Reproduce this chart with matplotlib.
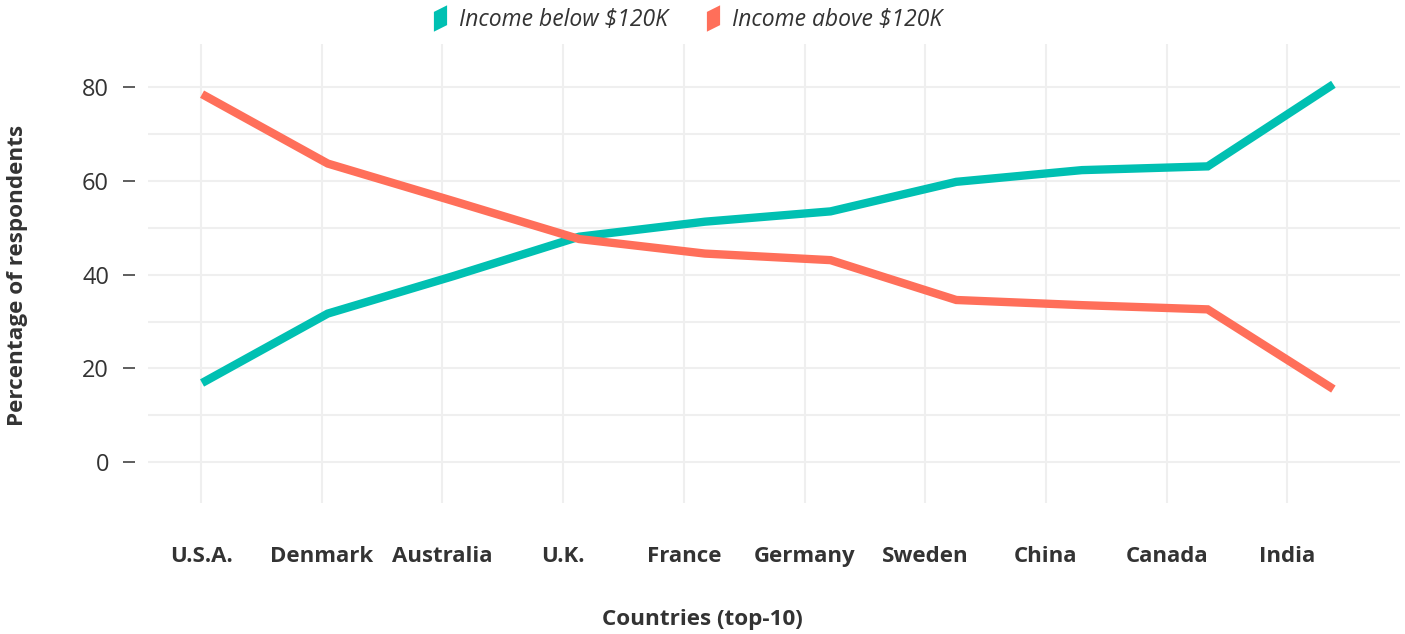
import numpy as np
import matplotlib
matplotlib.use('Agg')
import matplotlib.pyplot as plt
from matplotlib.lines import Line2D
from matplotlib.path import Path

plt.rcParams['font.family'] = ['Open Sans', 'DejaVu Sans']

# --- datos ---
paises = ['U.S.A.', 'Denmark', 'Australia', 'U.K.', 'France',
          'Germany', 'Sweden', 'China', 'Canada', 'India']
ingreso_bajo = [16.9, 31.7, 39.7, 48.1, 51.3, 53.5, 59.8, 62.3, 63.1, 80.6]
ingreso_alto = [78.5, 63.7, 55.7, 47.6, 44.5, 43.1, 34.6, 33.5, 32.6, 15.6]
yticks = [0, 20, 40, 60, 80]
etiqueta_bajo = 'Income below $120K'
etiqueta_alto = 'Income above $120K'

COLOR_BAJO = '#00c0b2'
COLOR_ALTO = '#ff6f5a'
TEXTO = '#333333'
GRILLA = '#efefef'

fig = plt.figure(figsize=(14.05, 6.34), dpi=100)
ax = fig.add_axes([148 / 1405, 131 / 634, 1252 / 1405, 459 / 634])

x = np.arange(len(paises))
ax.plot(x, ingreso_bajo, color=COLOR_BAJO, lw=6, solid_capstyle='butt',
        solid_joinstyle='miter', zorder=3)
ax.plot(x, ingreso_alto, color=COLOR_ALTO, lw=6, solid_capstyle='butt',
        solid_joinstyle='miter', zorder=3)

ax.set_xlim(-0.43, 9.53)
ax.set_ylim(-8.7, 89.2)

# la grilla de categorias no coincide exacto con los puntos (como en el original)
pos_ticks = x * 0.9602 - 0.008
ax.set_xticks(pos_ticks)
ax.set_xticklabels(paises)
ax.tick_params(axis='x', length=0, pad=31, labelsize=16, labelcolor=TEXTO)
for t in ax.get_xticklabels():
    t.set_fontweight('bold')

ax.set_yticks(yticks)
ax.set_yticklabels([str(v) for v in yticks])
ax.tick_params(axis='y', length=8.6, width=1.1, color=TEXTO, direction='out',
               pad=10, labelsize=17, labelcolor=TEXTO)

for s in ax.spines.values():
    s.set_visible(False)
ax.spines['left'].set_position(('outward', 9.4))

ax.grid(False)
for v in np.arange(0, 81, 10):
    ax.axhline(v, color=GRILLA, lw=1.5, zorder=1)
for p in pos_ticks:
    ax.axvline(p, color=GRILLA, lw=1.5, zorder=1)

fig.text(18 / 1405, 1 - 275 / 634, 'Percentage of respondents', rotation=90,
         ha='center', va='center', fontsize=16.2, fontweight='bold', color=TEXTO)
fig.text(702 / 1405, 1 - 619 / 634, 'Countries (top-10)', ha='center',
         va='center', fontsize=16.2, fontweight='bold', color=TEXTO)

# marcador tipo paralelogramo para la leyenda
forma = Path([(-6, -12), (6, -6), (6, 12), (-6, 6), (-6, -12)],
             [Path.MOVETO, Path.LINETO, Path.LINETO, Path.LINETO, Path.CLOSEPOLY])
handles = [
    Line2D([], [], ls='none', marker=forma, markersize=19, color=COLOR_BAJO, markeredgewidth=0),
    Line2D([], [], ls='none', marker=forma, markersize=19, color=COLOR_ALTO, markeredgewidth=0),
]
fig.legend(handles, [etiqueta_bajo, etiqueta_alto], loc='center',
           bbox_to_anchor=(687 / 1405, 1 - 20 / 634), ncol=2, frameon=False,
           handlelength=0.7, handletextpad=0.5, columnspacing=1.6,
           prop={'style': 'italic', 'size': 16.5}, labelcolor=TEXTO)

fig.savefig('out.png', dpi=100, facecolor='white')
